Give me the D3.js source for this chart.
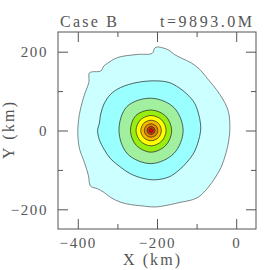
<!DOCTYPE html>
<html>
<head>
<meta charset="utf-8">
<script src="https://cdn.jsdelivr.net/npm/d3@7.9.0/dist/d3.min.js"></script>
<style>
  html, body { margin: 0; padding: 0; background: #fff; }
  svg { display: block; }
  .axis text { font-family: "Liberation Serif", serif; font-size: 15px; fill: #555; letter-spacing: 1.6px; }
  .axis line { stroke: #555; }
  .axis path { display: none; }
  .label { font-family: "Liberation Serif", serif; font-size: 16px; fill: #555; }
</style>
</head>
<body>
<div id="chart"></div>
<script>
// axis ticks
const xTicks = [-400, -200, 0];
const xMinorTicks = [-300, -100];
const yTicks = [-200, 0, 200];
const yMinorTicks = [-100, 100];

const titleLeft = 'Case B';
const titleRight = 't=9893.0M';

// contour centre (km)
const center = [-215, 0];

// outermost contour (km)
const outerContour = [
  [-206, 209], [-199, 212], [-183, 209], [-170, 204], [-156, 193], [-137, 183],
  [-114, 172], [-92, 155], [-72, 131], [-50, 104], [-34, 80], [-23, 58],
  [-18, 40], [-16, 4], [-19, -27], [-26, -58], [-38, -93], [-52, -118],
  [-72, -146], [-94, -168], [-115, -177], [-140, -182], [-166, -188], [-204, -194],
  [-241, -191], [-267, -188], [-292, -182], [-317, -170], [-334, -157], [-350, -148],
  [-368, -141], [-373, -115], [-383, -82], [-396, -45], [-400, -2], [-396, 41],
  [-388, 75], [-380, 100], [-372, 122], [-371, 146], [-363, 149], [-342, 151],
  [-334, 164], [-326, 170], [-300, 185], [-250, 193], [-212, 196],
];

// second contour (km)
const cyanContour = [
  [-204, 126], [-170, 122], [-145, 109], [-124, 92], [-106, 71], [-96, 46],
  [-90, 16], [-90, -2], [-96, -29], [-106, -55], [-124, -80], [-145, -101],
  [-170, -118], [-204, -125], [-233, -122], [-267, -110], [-292, -93], [-317, -72],
  [-334, -47], [-346, -22], [-350, 2], [-346, 16], [-342, 42], [-334, 67],
  [-317, 92], [-292, 109], [-250, 122],
];

// inner contours: radius (km) at angles E, NE, N, NW, W, SW, S, SE
const ringAngles = [0, 45, 90, 135, 180, 225, 270, 315];
const lightGreenRadii = [81, 82, 82, 86, 81, 84, 84, 82];
const chartreuseRadii = [52, 52, 52, 54, 52, 53, 55, 53];
const yellowRadii = [38, 38, 38, 38, 38, 38, 39, 38];
const orangeRadii = [26, 26, 26, 26, 26, 26, 26, 26];
const darkOrangeRadii = [17, 17, 17, 17, 17, 17, 17, 17];
const brownRadii = [10, 10, 10, 10, 10, 10, 10, 10];
const redRadii = [5, 5, 5, 5, 5, 5, 5, 5];

const palette = ['#ccffff', '#99ffff', '#a0f0a0', '#99ee11', '#ffff00', '#f8b800', '#e08800', '#cc4010', '#e80000'];

function ringPoints(radii) {
  return radii.map((r, i) => {
    const a = (ringAngles[i] * Math.PI) / 180;
    return [center[0] + r * Math.cos(a), center[1] + r * Math.sin(a)];
  });
}

const contours = [
  outerContour,
  cyanContour,
  ringPoints(lightGreenRadii),
  ringPoints(chartreuseRadii),
  ringPoints(yellowRadii),
  ringPoints(orangeRadii),
  ringPoints(darkOrangeRadii),
  ringPoints(brownRadii),
  ringPoints(redRadii),
];

const width = 270;
const height = 270;
const plot = { left: 58, right: 256, top: 32, bottom: 229 };

const x = d3.scaleLinear().domain([-450, 50]).range([plot.left, plot.right]);
const y = d3.scaleLinear().domain([-250, 250]).range([plot.bottom, plot.top]);

const svg = d3.select('#chart').append('svg').attr('width', width).attr('height', height);

const line = d3
  .line()
  .x((d) => x(d[0]))
  .y((d) => y(d[1]))
  .curve(d3.curveCatmullRomClosed);

svg
  .append('g')
  .attr('class', 'contours')
  .selectAll('path')
  .data(contours)
  .join('path')
  .attr('d', line)
  .attr('fill', (d, i) => palette[i])
  .attr('stroke', (d, i) => (i === 0 ? '#555' : '#222'))
  .attr('stroke-width', 0.7);

// frame
svg
  .append('rect')
  .attr('x', plot.left)
  .attr('y', plot.top)
  .attr('width', plot.right - plot.left)
  .attr('height', plot.bottom - plot.top)
  .attr('fill', 'none')
  .attr('stroke', '#555')
  .attr('stroke-width', 1);

const major = 10;
const minor = 5;

svg.append('g').attr('class', 'axis')
  .attr('transform', `translate(0,${plot.bottom})`)
  .call(d3.axisBottom(x).tickValues(xTicks).tickSize(-major).tickPadding(8.5));
svg.append('g').attr('class', 'axis')
  .attr('transform', `translate(0,${plot.bottom})`)
  .call(d3.axisBottom(x).tickValues(xMinorTicks).tickSize(-minor).tickFormat(''));
svg.append('g').attr('class', 'axis')
  .attr('transform', `translate(0,${plot.top})`)
  .call(d3.axisTop(x).tickValues(xTicks).tickSize(-major).tickFormat(''));
svg.append('g').attr('class', 'axis')
  .attr('transform', `translate(0,${plot.top})`)
  .call(d3.axisTop(x).tickValues(xMinorTicks).tickSize(-minor).tickFormat(''));

svg.append('g').attr('class', 'axis')
  .attr('transform', `translate(${plot.left},0)`)
  .call(d3.axisLeft(y).tickValues(yTicks).tickSize(-major).tickPadding(10));
svg.append('g').attr('class', 'axis')
  .attr('transform', `translate(${plot.left},0)`)
  .call(d3.axisLeft(y).tickValues(yMinorTicks).tickSize(-minor).tickFormat(''));
svg.append('g').attr('class', 'axis')
  .attr('transform', `translate(${plot.right},0)`)
  .call(d3.axisRight(y).tickValues(yTicks).tickSize(-major).tickFormat(''));
svg.append('g').attr('class', 'axis')
  .attr('transform', `translate(${plot.right},0)`)
  .call(d3.axisRight(y).tickValues(yMinorTicks).tickSize(-minor).tickFormat(''));

svg.selectAll('.axis line').attr('stroke', '#555');
svg.selectAll('.axis text').attr('fill', '#555').attr('font-family', '"Liberation Serif", serif').attr('font-size', 15);

// titles
svg.append('text').attr('class', 'label')
  .attr('x', 60).attr('y', 27)
  .attr('textLength', 57).attr('lengthAdjust', 'spacing')
  .text(titleLeft);
svg.append('text').attr('class', 'label')
  .attr('x', 160).attr('y', 27)
  .attr('textLength', 92).attr('lengthAdjust', 'spacing')
  .text(titleRight);

// axis titles
svg.append('text').attr('class', 'label')
  .attr('x', 123).attr('y', 265)
  .attr('textLength', 57).attr('lengthAdjust', 'spacing')
  .text('X (km)');
svg.append('text').attr('class', 'label')
  .attr('transform', `translate(14,159) rotate(-90)`)
  .attr('textLength', 57).attr('lengthAdjust', 'spacing')
  .text('Y (km)');
</script>
</body>
</html>
